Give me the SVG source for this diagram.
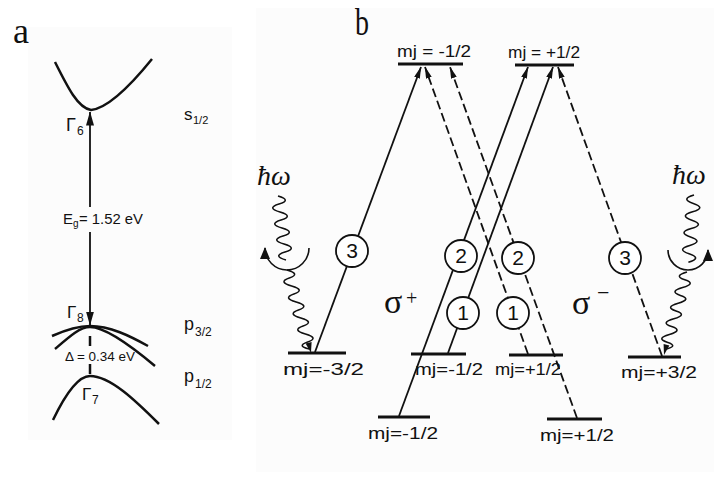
<svg xmlns="http://www.w3.org/2000/svg" width="714" height="483" viewBox="0 0 714 483">
<defs>
<marker id="ah" viewBox="0 0 12 6" markerWidth="12" markerHeight="6" refX="11.5" refY="3" orient="auto" markerUnits="userSpaceOnUse"><path d="M0,0 L12,3 L0,6 z" fill="#111"/></marker>
<marker id="ahb" viewBox="0 0 14 8" markerWidth="14" markerHeight="8" refX="13.5" refY="4" orient="auto" markerUnits="userSpaceOnUse"><path d="M0,0 L14,4 L0,8 z" fill="#111"/></marker>
<marker id="ahw" viewBox="0 0 12 10" markerWidth="12" markerHeight="10" refX="11" refY="5" orient="auto" markerUnits="userSpaceOnUse"><path d="M0,0 L12,5 L0,10 z" fill="#111"/></marker>
<style>
.ln{stroke:#111;stroke-width:1.8;fill:none}
.ds{stroke:#111;stroke-width:1.8;fill:none;stroke-dasharray:9 4}
.lv{stroke:#111;stroke-width:3.2;fill:none}
.band{stroke:#111;stroke-width:2.5;fill:none}
.cir{stroke:#111;stroke-width:1.8;fill:#fff}
.t{font-family:"Liberation Sans",Arial,sans-serif;fill:#111}
.s{font-family:"Liberation Serif","Times New Roman",serif;fill:#111}
.num{font-family:"Liberation Sans",Arial,sans-serif;font-size:21px;fill:#111;text-anchor:middle}
.wv{stroke:#111;stroke-width:1.6;fill:none}
</style>
</defs>
<rect x="0" y="0" width="714" height="483" fill="#fff"/>
<rect x="28" y="27" width="204" height="413" fill="#fcfcfc"/>
<rect x="256" y="8" width="458" height="464" fill="#fcfcfc"/>

<!-- Panel a -->
<g id="panel-a">
<text class="s" x="13" y="43" font-size="36" textLength="16" lengthAdjust="spacingAndGlyphs">a</text>
<g id="conduction">
<path class="band" d="M55,62 C68,88 78,108 91,110 C110,108 135,80 152,59"/>
<text class="t" x="66" y="131" font-size="18">Γ</text><text class="t" x="77" y="135" font-size="12">6</text>
<text class="t" x="184" y="120" font-size="17">s</text><text class="t" x="193" y="124" font-size="11">1/2</text>
</g>
<g id="valence">
<path class="band" d="M52,336 C70,328 80,326 90,326 C110,326 130,336 148,346"/>
<path class="band" d="M55,349 C70,336 80,327 90,327 C105,327 130,345 155,366"/>
<text class="t" x="67" y="318" font-size="17">Γ</text><text class="t" x="77" y="322" font-size="12">8</text>
<text class="t" x="184" y="330" font-size="18">p</text><text class="t" x="195" y="336" font-size="12">3/2</text>
</g>
<g id="splitoff">
<path class="band" d="M53,420 C65,395 78,376 90,376 C110,376 135,400 159,424"/>
<text class="t" x="82" y="400" font-size="17">Γ</text><text class="t" x="92" y="404" font-size="12">7</text>
<text class="t" x="184" y="382" font-size="18">p</text><text class="t" x="195" y="388" font-size="12">1/2</text>
</g>
<g id="gaps">
<line class="ln" x1="90" y1="207" x2="90" y2="112" marker-end="url(#ahb)"/>
<line class="ln" x1="90" y1="232" x2="90" y2="325" marker-end="url(#ahb)"/>
<text class="t" x="63" y="224" font-size="15">E</text><text class="t" x="73" y="227" font-size="10">g</text>
<text class="t" x="79" y="224" font-size="15" textLength="64" lengthAdjust="spacingAndGlyphs">= 1.52 eV</text>
<line x1="90" y1="336" x2="90" y2="346" stroke="#111" stroke-width="2.5"/>
<line x1="90" y1="364" x2="90" y2="374" stroke="#111" stroke-width="2.5"/>
<text class="t" x="65" y="361" font-size="13" textLength="70" lengthAdjust="spacingAndGlyphs">Δ = 0.34 eV</text>
</g>
</g>

<!-- Panel b -->
<text class="s" x="355" y="35" font-size="38" textLength="14" lengthAdjust="spacingAndGlyphs">b</text>

<g id="lvl-top-m">
<line class="lv" x1="398" y1="64" x2="463" y2="64"/>
<text class="t" x="397" y="57" font-size="16" textLength="74" lengthAdjust="spacingAndGlyphs">mj = -1/2</text>
</g>
<g id="lvl-top-p">
<line class="lv" x1="515" y1="65" x2="574" y2="65"/>
<text class="t" x="508" y="58" font-size="16" textLength="72" lengthAdjust="spacingAndGlyphs">mj = +1/2</text>
</g>
<g id="lvl-m32">
<line class="lv" x1="288" y1="353" x2="346" y2="353"/>
<text class="t" x="283" y="375" font-size="17" textLength="81" lengthAdjust="spacingAndGlyphs">mj=-3/2</text>
</g>
<g id="lvl-m12">
<line class="lv" x1="411" y1="354" x2="466" y2="354"/>
<text class="t" x="415" y="375" font-size="17" textLength="68" lengthAdjust="spacingAndGlyphs">mj=-1/2</text>
</g>
<g id="lvl-p12">
<line class="lv" x1="509" y1="355" x2="563" y2="355"/>
<text class="t" x="495" y="375" font-size="17" textLength="66" lengthAdjust="spacingAndGlyphs">mj=+1/2</text>
</g>
<g id="lvl-p32">
<line class="lv" x1="628" y1="357" x2="681" y2="357"/>
<text class="t" x="621" y="378" font-size="17" textLength="76" lengthAdjust="spacingAndGlyphs">mj=+3/2</text>
</g>
<g id="lvl-so-m">
<line class="lv" x1="378" y1="417" x2="430" y2="417"/>
<text class="t" x="368" y="439" font-size="17" textLength="70" lengthAdjust="spacingAndGlyphs">mj=-1/2</text>
</g>
<g id="lvl-so-p">
<line class="lv" x1="547" y1="419" x2="602" y2="419"/>
<text class="t" x="540" y="441" font-size="17" textLength="74" lengthAdjust="spacingAndGlyphs">mj=+1/2</text>
</g>

<g id="connectors">
<line class="ln" x1="315" y1="352" x2="421" y2="67" marker-end="url(#ah)"/>
<line class="ln" x1="399" y1="416" x2="528" y2="67" marker-end="url(#ah)"/>
<line class="ln" x1="448" y1="353" x2="553" y2="67" marker-end="url(#ah)"/>
<line class="ds" x1="528" y1="354" x2="425" y2="67" marker-end="url(#ah)"/>
<line class="ds" x1="577" y1="418" x2="450" y2="67" marker-end="url(#ah)"/>
<line class="ds" x1="662" y1="356" x2="558" y2="67" marker-end="url(#ah)"/>
<!-- photons left -->
<path class="wv" d="M278,196 q14,4 1,8 t1,8 t1,8 t1,8 t1,8 t1,8 t1,8 t1,8"/>
<path class="wv" d="M287,270 q14,4 2.3,8 t2.3,8 t2.3,8 t2.3,8 t2.3,8 t2.3,8 t2.3,8 t2.3,8 t2.3,8 t1.6,7"/>
<polygon points="311,353 305.6,343.6 311.6,342" fill="#111"/>
<path class="wv" d="M309,248 A22,22 0 0 1 265,248" marker-end="url(#ahw)"/>
<!-- photons right -->
<path class="wv" d="M694,195 q-14,4 -0.7,8.4 t-0.7,8.4 t-0.7,8.4 t-0.7,8.4 t-0.7,8.4 t-0.7,8.4 t-0.7,8.4 t-0.7,8.4"/>
<path class="wv" d="M687,272 q-14,4 -2.2,7.8 t-2.2,7.8 t-2.2,7.8 t-2.2,7.8 t-2.2,7.8 t-2.2,7.8 t-2.2,7.8 t-2.2,7.8 t-2.2,7.8 t-1.6,7"/>
<polygon points="664,355 663.6,344 669.4,345.4" fill="#111"/>
<path class="wv" d="M668,250 A20,20 0 0 0 708,250" marker-end="url(#ahw)"/>
</g>

<g id="c3l"><circle class="cir" cx="352" cy="251" r="16"/><text class="num" x="352" y="258">3</text></g>
<g id="c2l"><circle class="cir" cx="461" cy="256" r="16"/><text class="num" x="461" y="263">2</text></g>
<g id="c1l"><circle class="cir" cx="463" cy="313" r="16"/><text class="num" x="463" y="320">1</text></g>
<g id="c1r"><circle class="cir" cx="513" cy="313" r="16"/><text class="num" x="513" y="320">1</text></g>
<g id="c2r"><circle class="cir" cx="518" cy="258" r="16"/><text class="num" x="518" y="265">2</text></g>
<g id="c3r"><circle class="cir" cx="625" cy="258" r="16"/><text class="num" x="625" y="265">3</text></g>

<g id="labels">
<text class="s" x="257" y="185" font-size="28" font-style="italic">ħω</text>
<text class="s" x="672" y="184" font-size="28" font-style="italic">ħω</text>
<text class="s" x="384" y="313" font-size="34">σ</text><text class="s" x="406" y="305" font-size="20">+</text>
<text class="s" x="572" y="314" font-size="34">σ</text><text class="s" x="597" y="300" font-size="22">−</text>
</g>
</svg>
